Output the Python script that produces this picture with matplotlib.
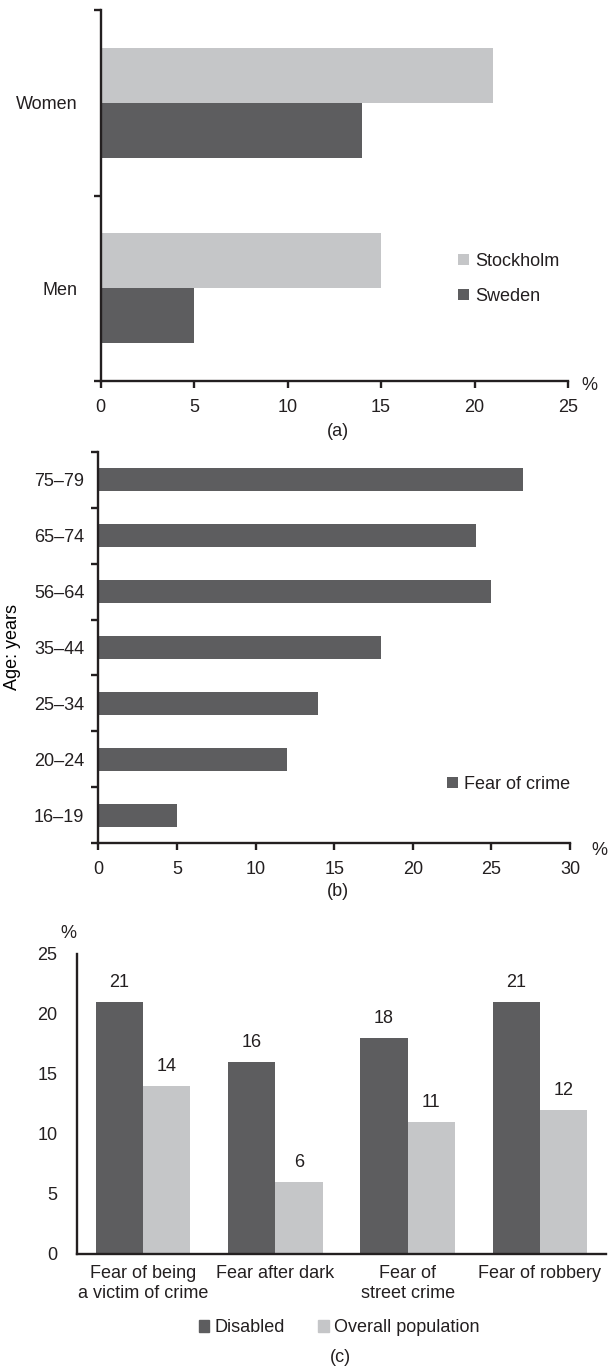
import numpy as np
import matplotlib
matplotlib.use("Agg")
import matplotlib.pyplot as plt
from matplotlib.patches import Patch

plt.rcParams.update({"font.family": ["Liberation Sans", "DejaVu Sans"], "font.size": 13,
                     "text.color": "#231f20", "axes.edgecolor": "#231f20",
                     "xtick.color": "#231f20", "ytick.color": "#231f20"})

DARK = "#5d5d5f"
LIGHT = "#c5c6c8"
LINE = "#231f20"

# ---------- data ----------
sex_groups = ["Men", "Women"]
stockholm = [15, 21]
sweden = [5, 14]

age_groups = ["16\u201319", "20\u201324", "25\u201334", "35\u201344", "56\u201364", "65\u201374", "75\u201379"]
fear_of_crime = [5, 12, 14, 18, 25, 24, 27]

fear_types = ["Fear of being\na victim of crime", "Fear after dark", "Fear of\nstreet crime", "Fear of robbery"]
disabled = [21, 16, 18, 21]
overall = [14, 6, 11, 12]

W, H = 608, 1366
fig = plt.figure(figsize=(W / 100, H / 100), dpi=100)


def box(l, r, t, b):
    return [l / W, 1 - b / H, (r - l) / W, (b - t) / H]


def style_axes(ax):
    for s in ["top", "right"]:
        ax.spines[s].set_visible(False)
    for s in ["left", "bottom"]:
        ax.spines[s].set_linewidth(1.7)
        ax.spines[s].set_color(LINE)
    ax.tick_params(which="major", direction="out", width=1.7, length=5)


# ---------- (a) ----------
ax = fig.add_axes(box(100.7, 568, 10, 381))
y = np.arange(len(sex_groups))
h = 0.297
ax.barh(y + h / 2, stockholm, height=h, color=LIGHT, label="Stockholm")
ax.barh(y - h / 2, sweden, height=h, color=DARK, label="Sweden")
ax.set_xlim(0, 25)
ax.set_ylim(-0.5, 1.5)
ax.set_xticks(range(0, 26, 5))
ax.set_yticks([-0.5, 0.5, 1.5])
ax.set_yticklabels([])
ax.set_yticks(y, minor=True)
ax.set_yticklabels(sex_groups, minor=True)
ax.tick_params(axis="y", which="minor", length=0, pad=17)
ax.tick_params(axis="x", pad=8)
style_axes(ax)
ax.legend(loc="upper left", bbox_to_anchor=(0.745, 0.37), frameon=False, borderpad=0,
          handlelength=0.6, handleheight=0.6, handletextpad=0.35, labelspacing=1.0)
fig.text(589 / W, 1 - 385 / H, "%", ha="center", va="center")
fig.text(338 / W, 1 - 431 / H, "(a)", ha="center", va="center")

# ---------- (b) ----------
ax = fig.add_axes(box(98.3, 570, 452, 843))
y = np.arange(len(age_groups))
ax.barh(y, fear_of_crime, height=0.41, color=DARK, label="Fear of crime")
ax.set_xlim(0, 30)
ax.set_ylim(-0.5, len(age_groups) - 0.5)
ax.set_xticks(range(0, 31, 5))
ax.set_yticks(np.arange(-0.5, len(age_groups), 1))
ax.set_yticklabels([])
ax.set_yticks(y, minor=True)
ax.set_yticklabels(age_groups, minor=True)
ax.tick_params(axis="y", which="minor", length=0, pad=10)
ax.tick_params(axis="x", pad=8)
style_axes(ax)
ax.set_ylabel("Age: years")
ax.yaxis.set_label_coords(-0.163, 0.5)
ax.legend(loc="upper left", bbox_to_anchor=(0.72, 0.195), frameon=False, borderpad=0,
          handlelength=0.6, handleheight=0.6, handletextpad=0.35)
fig.text(599 / W, 1 - 850 / H, "%", ha="center", va="center")
fig.text(338 / W, 1 - 892 / H, "(b)", ha="center", va="center")

# ---------- (c) ----------
ax = fig.add_axes(box(77, 606, 954, 1254))
x = np.arange(len(fear_types))
w = 0.357
b1 = ax.bar(x - w / 2, disabled, width=w, color=DARK, label="Disabled")
b2 = ax.bar(x + w / 2, overall, width=w, color=LIGHT, label="Overall population")
for bars, vals in [(b1, disabled), (b2, overall)]:
    for r, v in zip(bars, vals):
        ax.text(r.get_x() + r.get_width() / 2, v + 1.65, str(v), ha="center", va="center")
ax.set_xlim(-0.5, len(fear_types) - 0.5)
ax.set_ylim(0, 25)
ax.set_yticks(range(0, 26, 5))
ax.set_xticks(x)
ax.set_xticklabels(fear_types, linespacing=1.2)
style_axes(ax)
ax.tick_params(axis="both", length=0)
ax.tick_params(axis="y", pad=14)
ax.tick_params(axis="x", pad=8)
fig.legend(handles=[Patch(color=DARK, label="Disabled"), Patch(color=LIGHT, label="Overall population")],
           loc="center", bbox_to_anchor=(339 / W, 1 - 1328 / H), ncol=2, frameon=False,
           borderpad=0, handlelength=0.6, handleheight=0.6, handletextpad=0.3, columnspacing=1.8)
fig.text(68 / W, 1 - 933 / H, "%", ha="center", va="center")
fig.text(340 / W, 1 - 1358 / H, "(c)", ha="center", va="center")

fig.savefig("out.png", dpi=100)
